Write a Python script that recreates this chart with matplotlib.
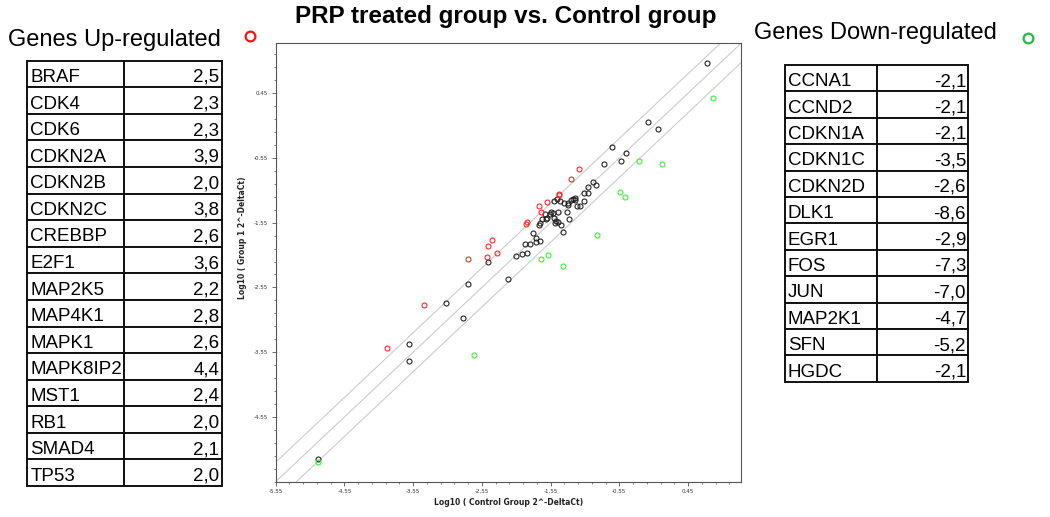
import numpy as np
import matplotlib.pyplot as plt
import matplotlib.transforms as mtransforms
from matplotlib.lines import Line2D

plt.rcParams['font.family'] = ['Liberation Sans', 'DejaVu Sans']

# fold regulation tables
up_genes = ['BRAF', 'CDK4', 'CDK6', 'CDKN2A', 'CDKN2B', 'CDKN2C', 'CREBBP', 'E2F1',
            'MAP2K5', 'MAP4K1', 'MAPK1', 'MAPK8IP2', 'MST1', 'RB1', 'SMAD4', 'TP53']
up_fold = [2.5, 2.3, 2.3, 3.9, 2.0, 3.8, 2.6, 3.6, 2.2, 2.8, 2.6, 4.4, 2.4, 2.0, 2.1, 2.0]

down_genes = ['CCNA1', 'CCND2', 'CDKN1A', 'CDKN1C', 'CDKN2D', 'DLK1', 'EGR1', 'FOS',
              'JUN', 'MAP2K1', 'SFN', 'HGDC']
down_fold = [-2.1, -2.1, -2.1, -3.5, -2.6, -8.6, -2.9, -7.3, -7.0, -4.7, -5.2, -2.1]

# scatter: log10(control 2^-dCt) vs log10(group 1 2^-dCt)
black_x = [0.72, -0.14, 0.006, -0.66, -0.45, -0.78, -0.53, -0.94, -0.887, -1.0, -1.013,
           -1.07, -1.07, -1.20, -1.227, -1.193, -1.159, -1.12, -1.29, -1.29, -1.314,
           -1.285, -1.377, -1.396, -1.46, -1.41, -1.508, -1.436, -1.518, -1.557, -1.596,
           -1.63, -1.508, -1.47, -1.484, -1.445, -1.678, -1.702, -1.717, -1.80, -1.766,
           -1.76, -1.702, -1.857, -1.92, -1.896, -1.96, -2.061, -2.454, -2.755, -2.168,
           -3.066, -2.823, -3.609, -3.614, -4.929, -1.35, -1.55, -1.62, -1.25]
black_y = [0.91, 0.007, -0.106, -0.38, -0.48, -0.64, -0.60, -0.92, -0.967, -0.993, -1.085,
           -1.096, -1.219, -1.168, -1.178, -1.199, -1.286, -1.30, -1.24, -1.28, -1.379,
           -1.492, -1.698, -1.59, -1.178, -1.219, -1.219, -1.389, -1.405, -1.415, -1.477,
           -1.415, -1.48, -1.53, -1.559, -1.533, -1.497, -1.549, -1.585, -1.709, -1.781,
           -1.853, -1.832, -1.884, -1.884, -2.023, -2.038, -2.064, -2.162, -2.502, -2.414,
           -2.79, -3.022, -3.429, -3.682, -5.207, -1.25, -1.38, -1.50, -1.20]

red_x = [-1.135, -1.251, -1.421, -1.421, -1.605, -1.712, -1.688, -1.887, -1.911, -2.406,
         -2.454, -2.328, -2.469, -2.755, -3.391, -3.934]
red_y = [-0.725, -0.879, -1.106, -1.126, -1.23, -1.286, -1.389, -1.539, -1.575, -1.817,
         -1.904, -2.013, -2.074, -2.116, -2.821, -3.491]

green_x = [0.82, -0.271, 0.069, -0.538, -0.465, -0.877, -1.688, -1.586, -1.368, -2.658, -4.929]
green_y = [0.383, -0.591, -0.642, -1.08, -1.147, -1.745, -2.105, -2.049, -2.214, -3.589, -5.243]

ticks = [-5.55, -4.55, -3.55, -2.55, -1.55, -0.55, 0.45]
lims = [-5.55, 1.22]

fig = plt.figure(figsize=(10.5, 5.17), dpi=100)

ax = fig.add_axes([0.2626, 0.0683, 0.4431, 0.8479])
xx = np.array(lims)
for off in [0, np.log10(2), -np.log10(2)]:
    ax.plot(xx, xx + off, color='#cccccc', lw=0.8, zorder=1)
mk = dict(ls='none', marker='o', mfc='none', ms=3.6, mew=0.75, zorder=3)
ax.plot(black_x, black_y, mec='#1a1a1a', **mk)
ax.plot(red_x, red_y, mec='#ff2020', **mk)
ax.plot(green_x, green_y, mec='#33ee33', **mk)
ax.set_xlim(lims)
ax.set_ylim(lims)

ax.set_xticks(ticks)
ax.set_xticklabels([f'{t:.2f}' for t in ticks])
ax.set_yticks(ticks[1:])
ax.set_yticklabels([f'{t:.2f}' for t in ticks[1:]])
minor = np.arange(-5.55, 1.22, 0.2)
ax.set_xticks(minor, minor=True)
ax.set_yticks(minor, minor=True)
for lab in ax.get_xticklabels() + ax.get_yticklabels():
    lab.set_family('DejaVu Sans')
    lab.set_fontsize(4)
    lab.set_color('#333333')
ax.tick_params(which='major', direction='out', length=3, width=0.6, color='#555555', pad=2.5)
ax.tick_params(which='minor', direction='out', length=1.5, width=0.5, color='#555555')
for sp in ax.spines.values():
    sp.set_color('#555555')
    sp.set_linewidth(0.8)

ax.set_xlabel('Log10 ( Control Group 2^-DeltaCt)', family='DejaVu Sans', fontsize=5.5,
              fontweight='bold', color='#222222')
ax.set_ylabel('Log10 ( Group 1 2^-DeltaCt)', family='DejaVu Sans', fontsize=5.5,
              fontweight='bold', color='#222222')
ax.xaxis.set_label_coords(0.5, -0.038)
ax.yaxis.set_label_coords(-0.062, 0.557)

fig.text(0.4814, 1 - 17 / 517, 'PRP treated group vs. Control group', ha='center',
         va='center', fontsize=17.5, fontweight='bold')
fig.text(8 / 1050, 1 - 40 / 517, 'Genes Up-regulated', ha='left', va='center', fontsize=17)
fig.text(754 / 1050, 1 - 33 / 517, 'Genes Down-regulated', ha='left', va='center', fontsize=17)
fig.add_artist(Line2D([250 / 1050], [1 - 36 / 517], marker='o', mfc='none', mec='#ff1010',
                      ms=7, mew=1.6, transform=fig.transFigure))
fig.add_artist(Line2D([1027.7 / 1050], [1 - 37.7 / 517], marker='o', mfc='none', mec='#22bb44',
                      ms=7, mew=1.6, transform=fig.transFigure))


def fold_table(rect, genes, fold):
    tax = fig.add_axes(rect)
    tax.axis('off')
    rows = [[g, f'{v:.1f}'.replace('.', ',')] for g, v in zip(genes, fold)]
    tbl = tax.table(cellText=rows, bbox=[0, 0, 1, 1], cellLoc='left')
    tbl.auto_set_font_size(False)
    tbl.set_fontsize(13.5)
    for (r, c), cell in tbl.get_celld().items():
        cell.set_linewidth(1.4)
        cell.set_edgecolor('#111111')
        # nudge text a bit down, it sits low in the original cells
        cell.get_text().set_transform(mtransforms.Affine2D().translate(0, -3.5))
        if c == 1:
            cell.get_text().set_ha('right')
            cell.PAD = 0.025
        else:
            cell.PAD = 0.03


fold_table([27.3 / 1050, 1 - 486 / 517, 194.4 / 1050, 425.3 / 517], up_genes, up_fold)
fold_table([785 / 1050, 1 - 381.7 / 517, 183.3 / 1050, 316.7 / 517], down_genes, down_fold)

fig.savefig('out.png', dpi=100)
